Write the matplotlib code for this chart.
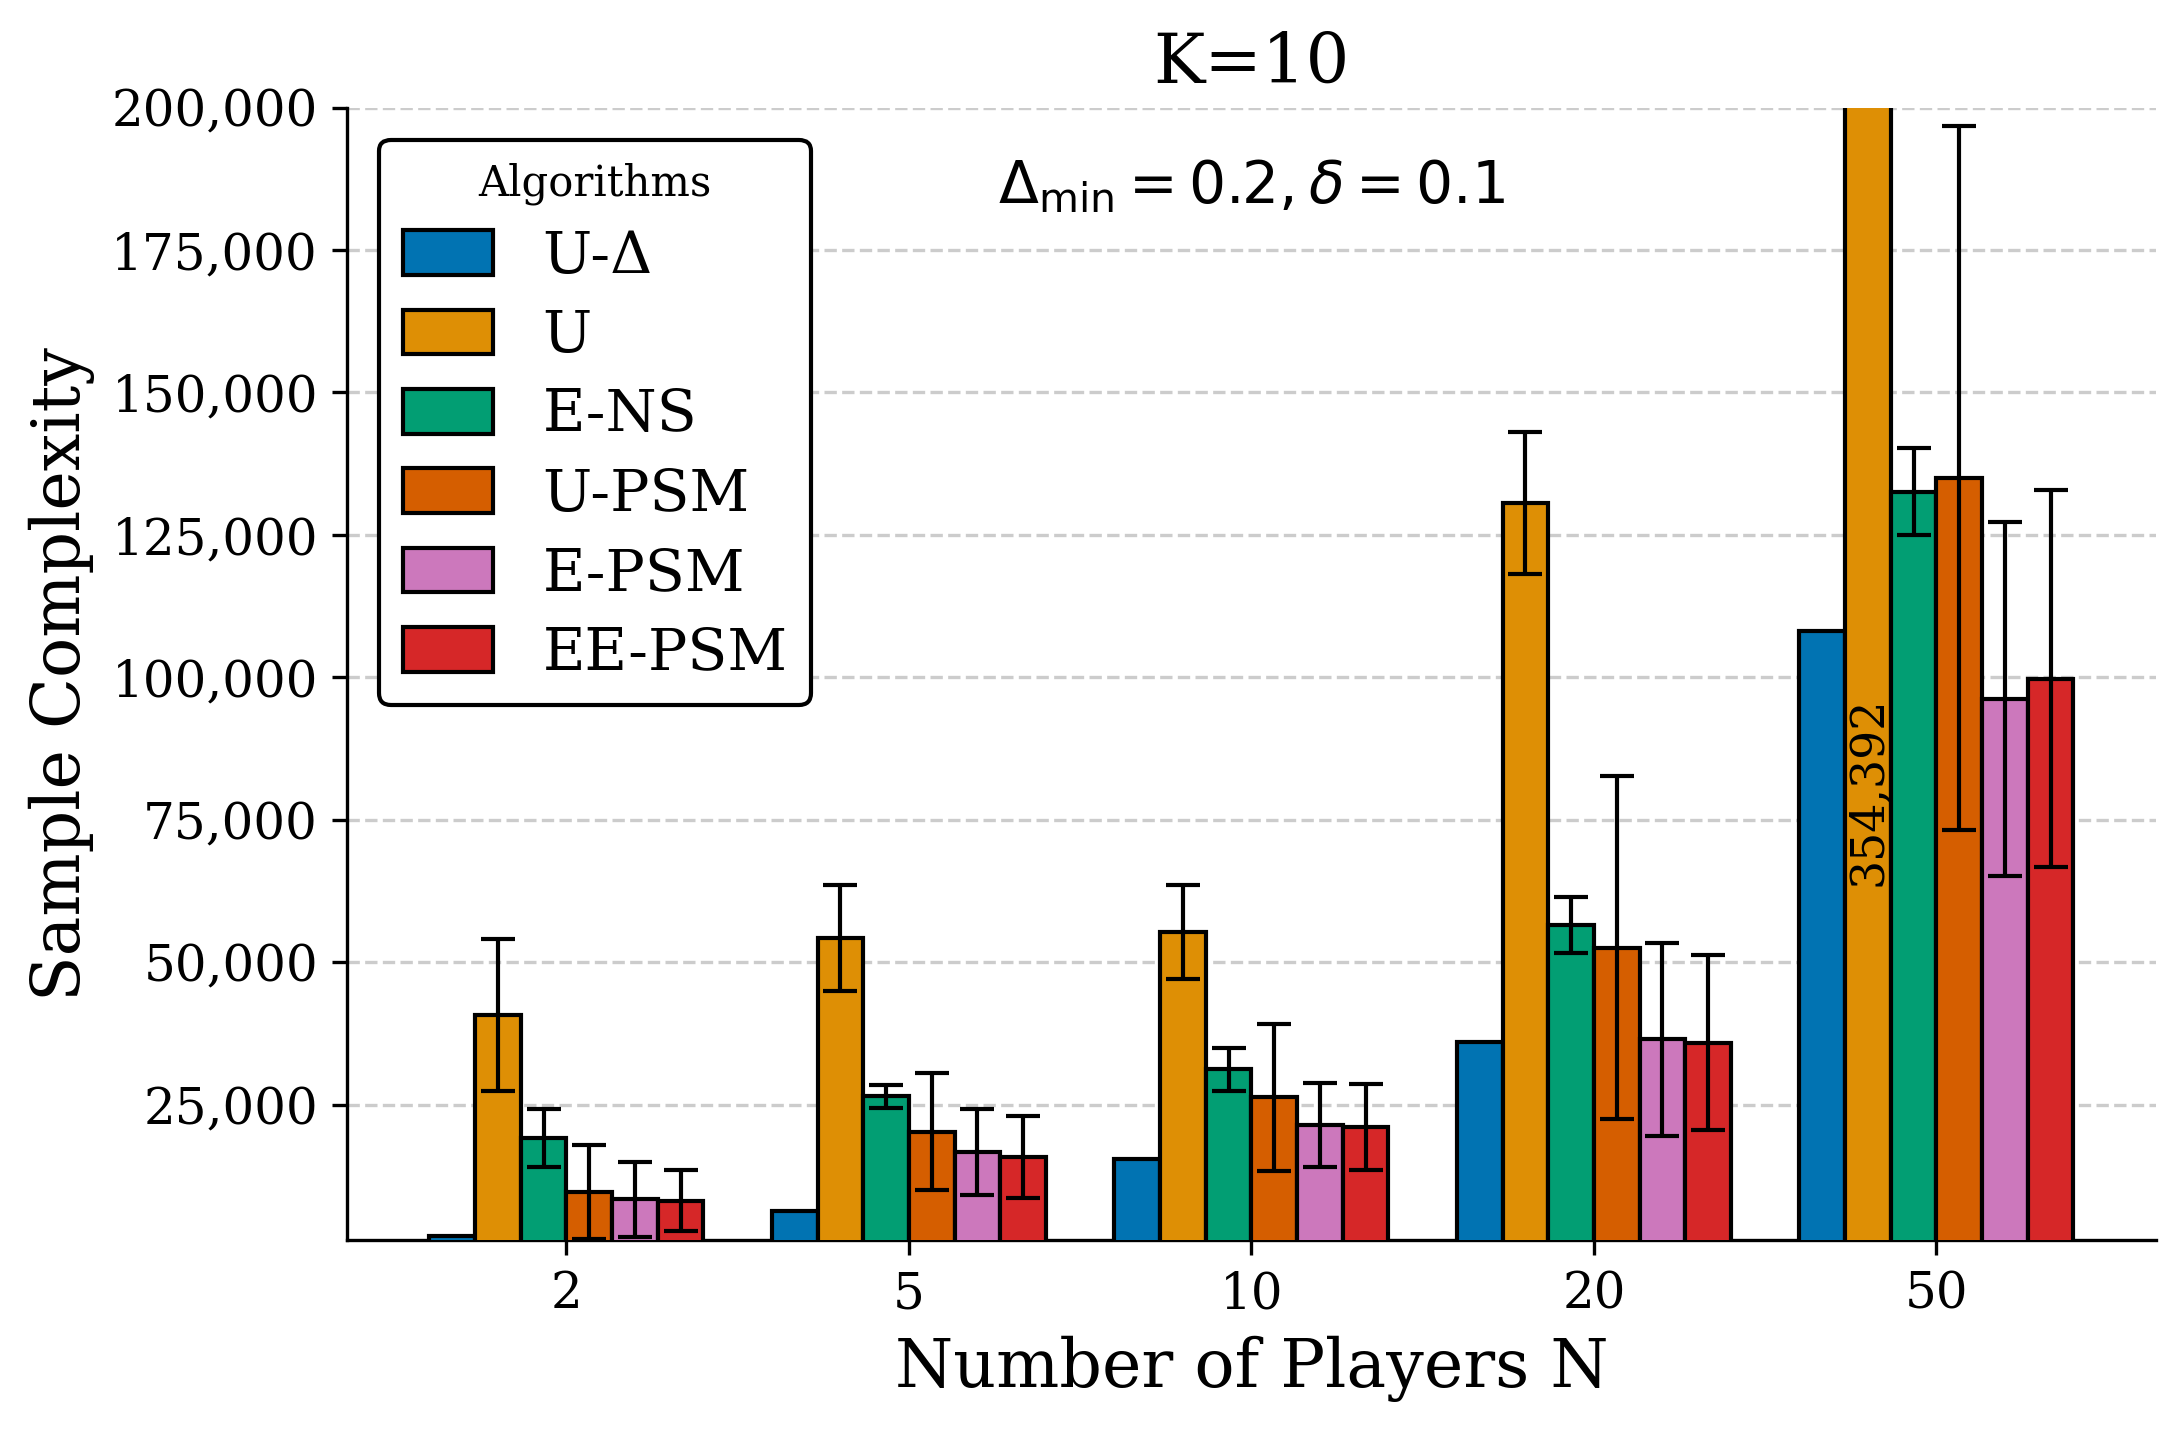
import matplotlib.pyplot as plt
import matplotlib.ticker as mticker
import numpy as np

plt.rcParams['font.family'] = 'DejaVu Serif'

# values
players = ['2', '5', '10', '20', '50']
algorithms = ['U-Δ', 'U', 'E-NS', 'U-PSM', 'E-PSM', 'EE-PSM']
colors = ['#0173B2', '#DE8F05', '#029E73', '#D55E00', '#CC78BC', '#D62728']

means = {
    'U-Δ':    [2000, 6400, 15400, 36100, 108100],
    'U':      [40800, 54200, 55300, 130600, 354392],
    'E-NS':   [19200, 26500, 31200, 56600, 132600],
    'U-PSM':  [9700, 20300, 26300, 52600, 135000],
    'E-PSM':  [8400, 16700, 21500, 36500, 96200],
    'EE-PSM': [8200, 15800, 21100, 35900, 99800],
}
stds = {
    'U-Δ':    [0, 0, 0, 0, 0],
    'U':      [13300, 9300, 8300, 12500, 30000],
    'E-NS':   [5100, 2000, 3800, 4900, 7600],
    'U-PSM':  [8200, 10300, 12900, 30100, 61800],
    'E-PSM':  [6600, 7600, 7400, 16900, 31000],
    'EE-PSM': [5400, 7200, 7600, 15400, 33000],
}

ymax = 200000

fig, ax = plt.subplots(figsize=(7.28, 4.78), dpi=300)
fig.subplots_adjust(left=0.159, right=0.987, top=0.925, bottom=0.135)

x = np.arange(len(players))
width = 0.8 / len(algorithms)

for i, alg in enumerate(algorithms):
    pos = x + (i - (len(algorithms) - 1) / 2) * width
    err = stds[alg] if any(stds[alg]) else None
    ax.bar(pos, means[alg], width, color=colors[i], edgecolor='black',
           linewidth=1.0, label=alg, zorder=3,
           yerr=err, capsize=4,
           error_kw=dict(elinewidth=1.0, capthick=1.0, ecolor='black', zorder=4))
    # label values that go above the top of the plot
    for px, v in zip(pos, means[alg]):
        if v > ymax:
            ax.text(px, ymax * 0.4, f'{v:,}', rotation=90, ha='center',
                    va='center', fontsize=11, zorder=5)

ax.set_ylim(1200, ymax)
ax.set_xticks(x)
ax.set_xticklabels(players, fontsize=12)
ax.yaxis.set_major_locator(mticker.MultipleLocator(25000))
ax.yaxis.set_major_formatter(mticker.FuncFormatter(lambda v, p: f'{int(v):,}'))
ax.tick_params(axis='y', labelsize=12)

ax.set_xlabel('Number of Players N', fontsize=16)
ax.set_ylabel('Sample Complexity', fontsize=16)
ax.set_title('K=10', fontsize=16.5)

ax.text(0.5, 0.93, r'$\Delta_{\min} = 0.2, \delta = 0.1$', transform=ax.transAxes,
        ha='center', va='center', fontsize=14, family='DejaVu Sans')

ax.grid(axis='y', linestyle='--', color='#cccccc', linewidth=0.8, zorder=0)
ax.spines['top'].set_visible(False)
ax.spines['right'].set_visible(False)

leg = ax.legend(title='Algorithms', loc='upper left', fontsize=14,
                title_fontsize=10, frameon=True, fancybox=True,
                labelspacing=0.4, handlelength=1.55, handleheight=0.8,
                handletextpad=0.85, borderaxespad=0.55)
leg.get_frame().set_edgecolor('black')
leg.get_frame().set_linewidth(1.0)
leg.get_frame().set_alpha(1)

fig.savefig('out.png', dpi=300)
